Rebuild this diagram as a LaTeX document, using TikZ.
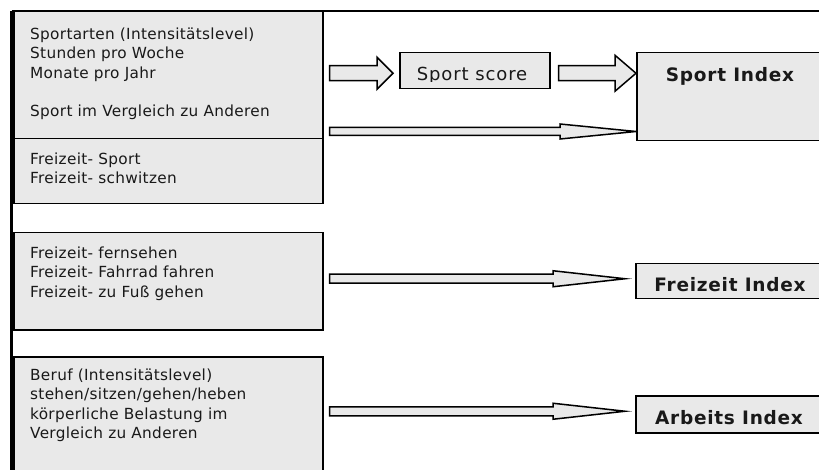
\documentclass[tikz,border=0pt]{standalone}
\usepackage{fontspec}
\setmainfont{DejaVu Sans}
\newfontfamily\txtfont[LetterSpace=2]{DejaVu Sans}
\newfontfamily\idxfont[LetterSpace=4]{DejaVu Sans}
\newfontfamily\scorefont[LetterSpace=5]{DejaVu Sans}
\usetikzlibrary{calc}
\definecolor{boxgray}{RGB}{233,233,233}
\tikzset{
  panel/.style={draw=black, fill=boxgray, line width=1.5pt, inner sep=0pt, anchor=north west},
  txt/.style={font=\txtfont\fontsize{15.3}{19.4}\selectfont, align=left, inner sep=0pt, anchor=north west, text=black!90},
  idxtxt/.style={font=\idxfont\bfseries\fontsize{18.5}{22}\selectfont, inner sep=0pt, anchor=base, text=black!90},
  scoretxt/.style={font=\scorefont\fontsize{18}{21}\selectfont, inner sep=0pt, anchor=base, text=black!90},
  blockarr/.style={draw=black, fill=boxgray, line width=1.5pt, line join=miter},
  frameline/.style={draw=black, line width=2pt},
  leftbar/.style={draw=black, line width=3.5pt}
}
% #1 start (x used), #2 tip, #3 shaft half width, #4 head half width, #5 head length
\newcommand\blockarrow[5]{%
  \draw[blockarr] let \p1=(#1), \p2=(#2) in
    (\x1,\y2+#3) -- (\x2-#5,\y2+#3) -- (\x2-#5,\y2+#4) -- (\x2,\y2)
    -- (\x2-#5,\y2-#4) -- (\x2-#5,\y2-#3) -- (\x1,\y2-#3) -- cycle;}
\begin{document}
\begin{tikzpicture}[x=1pt,y=-1pt]
\useasboundingbox (0,0) rectangle (819,470);
\clip (0,0) rectangle (819,470);
\fill[white] (0,0) rectangle (819,470);

% left panels
\node[panel, minimum width=309pt, minimum height=127pt] (boxA) at (13,11) {};
\node[panel, minimum width=309pt, minimum height=65pt] (boxB) at (13,138) {};
\node[panel, minimum width=309pt, minimum height=97pt] (boxC) at (13,232) {};
\node[panel, minimum width=309pt, minimum height=130pt] (boxD) at (13,356) {};

% right boxes
\node[panel, minimum width=150pt, minimum height=36pt] (score) at (399,52) {};
\node[panel, minimum width=200pt, minimum height=88pt] (sidx) at (636,52) {};
\node[panel, minimum width=200pt, minimum height=35pt] (fidx) at (635,263) {};
\node[panel, minimum width=200pt, minimum height=37pt] (aidx) at (635,395) {};

% frame lines
\coordinate (tl) at (11.5,11);
\coordinate (tr) at (819,11);
\coordinate (bl) at (11.5,470);
\draw[frameline] (tl) -- (tr);
\draw[leftbar] (tl) -- (bl);

% texts in left panels
\node[txt] (tA) at ([shift={(17,16.5)}]boxA.north west)
  {Sportarten (Intensitätslevel)\\Stunden pro Woche\\Monate pro Jahr\\[19.4pt]Sport im Vergleich zu Anderen};
\node[txt] (tB) at ([shift={(17,14.5)}]boxB.north west)
  {Freizeit- Sport\\Freizeit- schwitzen};
\node[txt] (tC) at ([shift={(17,14.5)}]boxC.north west)
  {Freizeit- fernsehen\\Freizeit- Fahrrad fahren\\Freizeit- zu Fuß gehen};
\node[txt] (tD) at ([shift={(17,12.5)}]boxD.north west)
  {Beruf (Intensitätslevel)\\stehen/sitzen/gehen/heben\\körperliche Belastung im\\Vergleich zu Anderen};

% index labels
\node[idxtxt] (lsidx) at (730,82) {Sport Index};
\node[idxtxt] (lfidx) at (730,291) {Freizeit Index};
\node[idxtxt] (laidx) at (729,424) {Arbeits Index};
\begin{scope}
  \clip (score.north west) rectangle ([yshift=8pt]score.south east);
  \node[scoretxt] (lscore) at (472,81) {Sport score};
\end{scope}

% arrow tips
\coordinate (t1) at ([shift={(-6,2.5)}]score.west);
\coordinate (t2) at (sidx.west |- t1);
\coordinate (t3) at ([shift={(0,-10)}]sidx.south west);
\coordinate (t4) at ([shift={(-10,-2.5)}]fidx.west);
\coordinate (t5) at ([shift={(-10,-3)}]aidx.west);

\blockarrow{[xshift=6pt]boxA.east}{t1}{7.5pt}{16pt}{16pt}
\blockarrow{[xshift=8pt]score.east}{t2}{7.5pt}{18pt}{21pt}
\blockarrow{[xshift=6pt]boxA.east}{t3}{4pt}{7.5pt}{76pt}
\blockarrow{[xshift=6pt]boxC.east}{t4}{4.5pt}{8pt}{72pt}
\blockarrow{[xshift=6pt]boxD.east}{t5}{4.5pt}{8pt}{72pt}
\end{tikzpicture}
\end{document}
